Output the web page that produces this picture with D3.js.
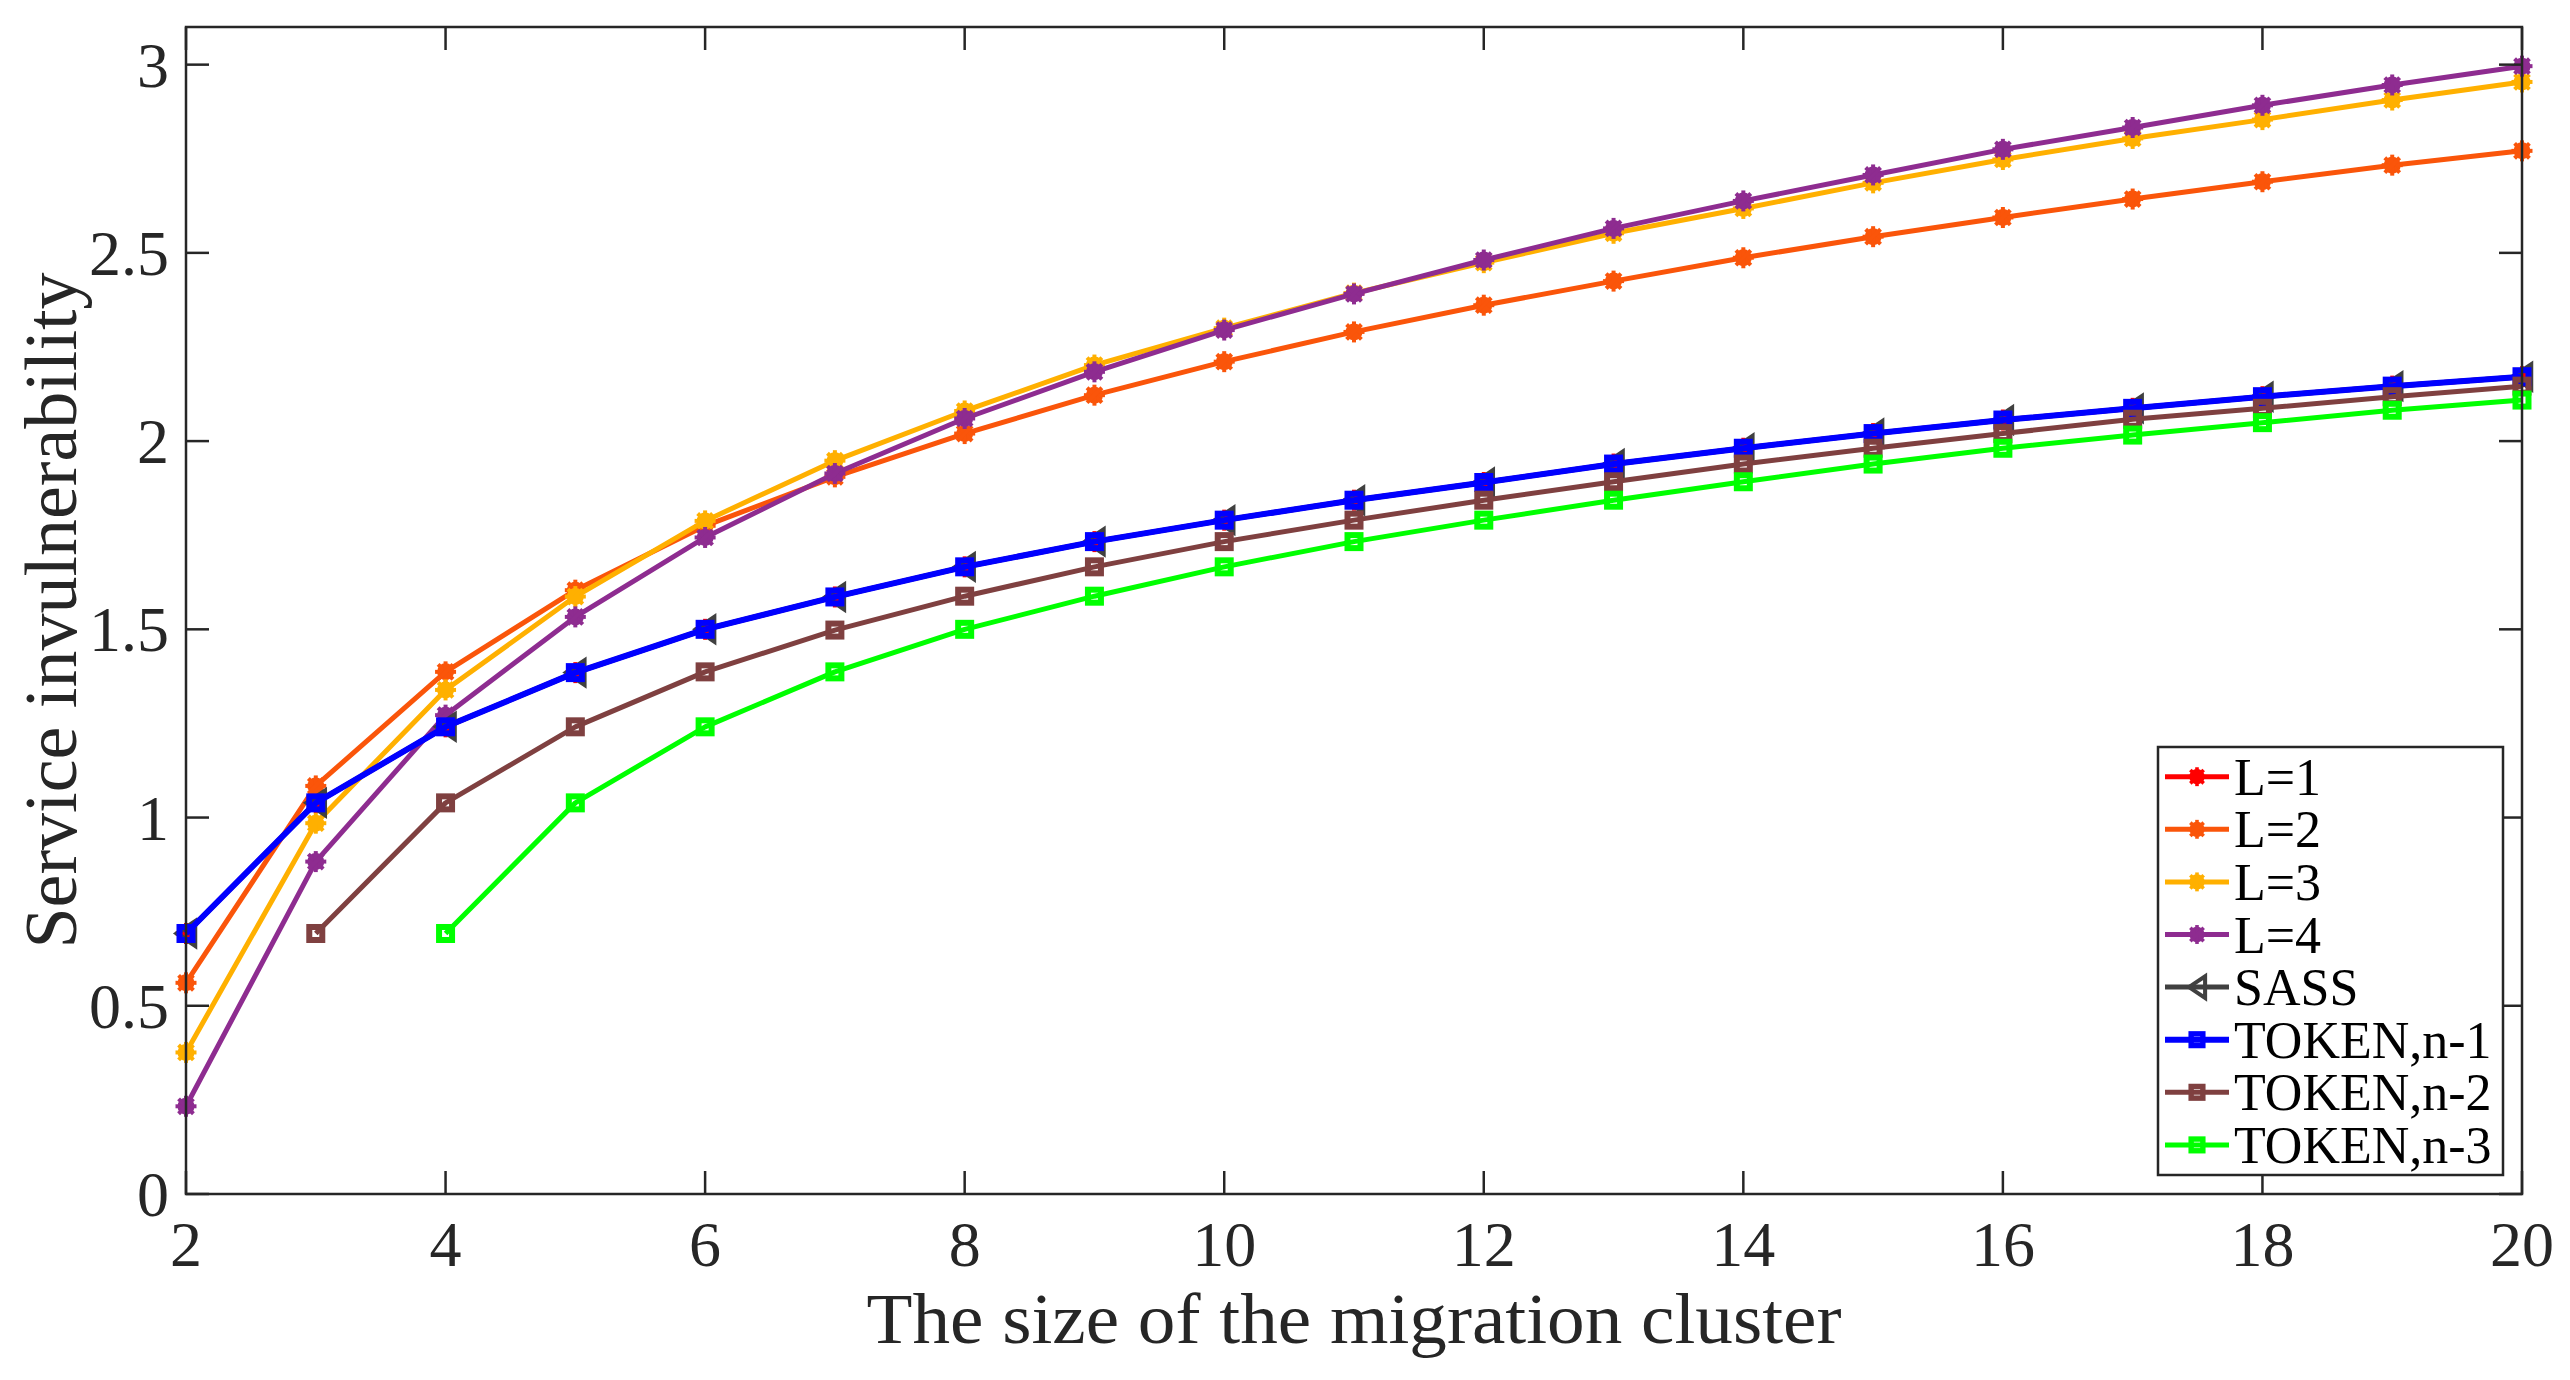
<!DOCTYPE html>
<html>
<head>
<meta charset="utf-8">
<script src="https://cdn.jsdelivr.net/npm/d3@7"></script>
<style>
  body { margin: 0; background: #fff; }
  text { font-family: "Liberation Serif", "DejaVu Serif", serif; fill: #262626; }
</style>
</head>
<body>
<div id="svg-container"></div>
<script>
//x categories (cluster size)
var clusterSizes = [2,3,4,5,6,7,8,9,10,11,12,13,14,15,16,17,18,19,20];

//series values
var valuesL1 = [0.692,1.039,1.241,1.385,1.500,1.586,1.666,1.733,1.790,1.843,1.890,1.939,1.981,2.020,2.056,2.087,2.118,2.146,2.171];
var valuesL2 = [0.561,1.084,1.387,1.604,1.775,1.905,2.020,2.122,2.211,2.290,2.361,2.425,2.487,2.543,2.594,2.643,2.689,2.733,2.771];
var valuesL3 = [0.376,0.985,1.339,1.587,1.788,1.948,2.080,2.202,2.300,2.393,2.474,2.552,2.618,2.686,2.748,2.804,2.854,2.906,2.954];
var valuesL4 = [0.233,0.883,1.272,1.533,1.744,1.914,2.060,2.184,2.295,2.391,2.481,2.565,2.638,2.707,2.775,2.833,2.892,2.946,2.996];
var valuesSASS = [0.692,1.039,1.241,1.385,1.500,1.586,1.666,1.733,1.790,1.843,1.890,1.939,1.981,2.020,2.056,2.087,2.118,2.146,2.171];
var valuesTokenN1 = [0.692,1.039,1.241,1.385,1.500,1.586,1.666,1.733,1.790,1.843,1.890,1.939,1.981,2.020,2.056,2.087,2.118,2.146,2.171];
var valuesTokenN2 = [null,0.692,1.039,1.241,1.387,1.498,1.588,1.666,1.733,1.790,1.843,1.892,1.939,1.981,2.020,2.058,2.087,2.118,2.146];
var valuesTokenN3 = [null,null,0.692,1.039,1.241,1.387,1.500,1.588,1.666,1.733,1.790,1.843,1.892,1.939,1.981,2.016,2.049,2.082,2.109];

//legend names and tick labels
var seriesNames = ['L=1','L=2','L=3','L=4','SASS','TOKEN,n-1','TOKEN,n-2','TOKEN,n-3'];
var xTickValues = [2,4,6,8,10,12,14,16,18,20];
var yTickValues = [0,0.5,1,1.5,2,2.5,3];

//series styling
var seriesValues = [valuesL1,valuesL2,valuesL3,valuesL4,valuesSASS,valuesTokenN1,valuesTokenN2,valuesTokenN3];
var seriesColors = ['#ff0000','#fa550a','#ffb000','#8e2c90','#404040','#0000ff','#7f4040','#00ff00'];
var seriesMarkers = ['star','star','star','star','tri','square','square','square'];

var width = 2570, height = 1380;
var plotLeft = 186, plotRight = 2522, plotTop = 27, plotBottom = 1194;
var axisColor = '#262626';

var svg = d3.select('#svg-container').append('svg')
  .attr('width', width)
  .attr('height', height);

var x = d3.scaleLinear().domain([2, 20]).range([plotLeft, plotRight]);
var y = d3.scaleLinear().domain([0, 3.1]).range([plotBottom, plotTop]);

//draw a marker of given type at (cx, cy)
function drawMarker(g, type, cx, cy, color, scale) {
  scale = scale || 1;
  if (type === 'star') {
    var r = 10.5 * scale;
    var m = g.append('g').attr('transform', 'translate(' + cx + ',' + cy + ')');
    m.append('circle').attr('r', 8.5 * scale).style('fill', color);
    [0, 45, 90, 135].forEach(function(a) {
      var rad = a * Math.PI / 180;
      m.append('line')
        .attr('x1', -r * Math.cos(rad)).attr('y1', -r * Math.sin(rad))
        .attr('x2', r * Math.cos(rad)).attr('y2', r * Math.sin(rad))
        .style('stroke', color)
        .style('stroke-width', 4 * scale);
    });
  } else if (type === 'tri') {
    var w = 9 * scale, h = 12 * scale;
    g.append('polygon')
      .attr('points', (cx - w) + ',' + cy + ' ' + (cx + w) + ',' + (cy - h) + ' ' + (cx + w) + ',' + (cy + h))
      .style('fill', 'none')
      .style('stroke', color)
      .style('stroke-width', 4.5 * scale)
      .style('stroke-linejoin', 'miter');
  } else {
    var s = 13 * scale;
    g.append('rect')
      .attr('x', cx - s / 2).attr('y', cy - s / 2)
      .attr('width', s).attr('height', s)
      .style('fill', 'none')
      .style('stroke', color)
      .style('stroke-width', 6 * scale);
  }
}

//series lines and markers, in plotting order
var line = d3.line()
  .defined(function(d) { return d.v !== null; })
  .x(function(d) { return x(d.x); })
  .y(function(d) { return y(d.v); });

seriesValues.forEach(function(vals, i) {
  var pts = clusterSizes.map(function(c, j) { return {x: c, v: vals[j]}; });
  var g = svg.append('g');
  g.append('path')
    .datum(pts)
    .attr('d', line)
    .style('fill', 'none')
    .style('stroke', seriesColors[i])
    .style('stroke-width', i === 5 ? 6 : 5)
    .style('stroke-linejoin', 'round');
  pts.filter(function(d) { return d.v !== null; }).forEach(function(d) {
    drawMarker(g, seriesMarkers[i], x(d.x), y(d.v), seriesColors[i]);
  });
});

//axes box with inward ticks on all four sides
var axes = svg.append('g');
axes.append('rect')
  .attr('x', plotLeft).attr('y', plotTop)
  .attr('width', plotRight - plotLeft).attr('height', plotBottom - plotTop)
  .style('fill', 'none')
  .style('stroke', axisColor)
  .style('stroke-width', 2.5);

var tickLen = 23;
xTickValues.forEach(function(t) {
  axes.append('line').attr('x1', x(t)).attr('x2', x(t)).attr('y1', plotBottom).attr('y2', plotBottom - tickLen)
    .style('stroke', axisColor).style('stroke-width', 2.5);
  axes.append('line').attr('x1', x(t)).attr('x2', x(t)).attr('y1', plotTop).attr('y2', plotTop + tickLen)
    .style('stroke', axisColor).style('stroke-width', 2.5);
  axes.append('text')
    .attr('x', x(t)).attr('y', plotBottom + 72)
    .attr('text-anchor', 'middle')
    .style('font-size', '64px')
    .text(t);
});

yTickValues.forEach(function(t) {
  axes.append('line').attr('x1', plotLeft).attr('x2', plotLeft + tickLen).attr('y1', y(t)).attr('y2', y(t))
    .style('stroke', axisColor).style('stroke-width', 2.5);
  axes.append('line').attr('x1', plotRight).attr('x2', plotRight - tickLen).attr('y1', y(t)).attr('y2', y(t))
    .style('stroke', axisColor).style('stroke-width', 2.5);
  axes.append('text')
    .attr('x', plotLeft - 17).attr('y', y(t) + 22)
    .attr('text-anchor', 'end')
    .style('font-size', '64px')
    .text(t);
});

//axis titles
svg.append('text')
  .attr('x', (plotLeft + plotRight) / 2).attr('y', 1343)
  .attr('text-anchor', 'middle')
  .attr('textLength', 975)
  .attr('lengthAdjust', 'spacingAndGlyphs')
  .style('font-size', '72px')
  .text('The size of the migration cluster');

svg.append('text')
  .attr('transform', 'translate(76,' + ((plotTop + plotBottom) / 2) + ') rotate(-90)')
  .attr('text-anchor', 'middle')
  .style('font-size', '74px')
  .text('Service invulnerability');

//legend
var legend = svg.append('g');
legend.append('rect')
  .attr('x', 2158).attr('y', 747)
  .attr('width', 345).attr('height', 428)
  .style('fill', '#fff')
  .style('stroke', axisColor)
  .style('stroke-width', 2.5);

seriesNames.forEach(function(name, i) {
  var ly = 776.7 + i * 52.6;
  legend.append('line')
    .attr('x1', 2165).attr('x2', 2229).attr('y1', ly).attr('y2', ly)
    .style('stroke', seriesColors[i])
    .style('stroke-width', i === 5 ? 6 : 5);
  drawMarker(legend, seriesMarkers[i], 2197, ly, seriesColors[i], 0.9);
  legend.append('text')
    .attr('x', 2234).attr('y', ly + 18)
    .style('font-size', '52px')
    .style('fill', '#000')
    .text(name);
});
</script>
</body>
</html>
